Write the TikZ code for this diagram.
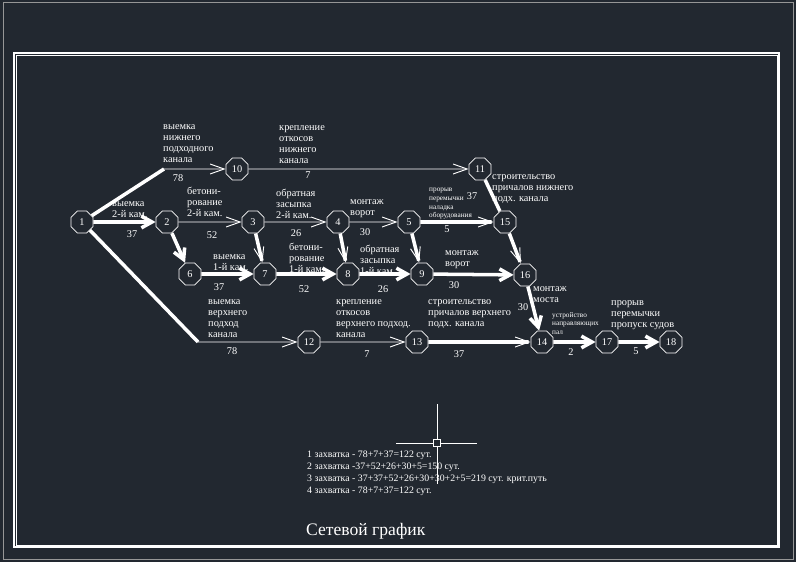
\documentclass[tikz,border=0pt]{standalone}
\usepackage{fontspec}
\setmainfont{Liberation Serif}
\usetikzlibrary{arrows.meta, positioning, shapes.geometric}
\definecolor{bgc}{RGB}{34,40,48}
\definecolor{framec}{RGB}{150,150,150}
\tikzset{
  ev/.style={draw=white, regular polygon, regular polygon sides=8,
             minimum size=0.72cm, inner sep=0pt, line width=0.6pt,
             text=white, font=\fontsize{8.8}{9}\selectfont},
  wk/.style={draw=white, line width=0.8pt,
             -{Straight Barb[length=12pt, width=8.5pt, line width=0.8pt]}},
  crit/.style={draw=white, line width=3pt,
               -{Straight Barb[length=9pt, width=10pt]}},
  critw/.style={draw=white, line width=3pt,
                -{Straight Barb[length=12pt, width=8.5pt, line width=0.8pt]}},
  bar/.style={draw=white, line width=3pt},
  lbl/.style={anchor=west, align=left, inner sep=0pt, text=white,
              font=\fontsize{8.8}{9.4}\selectfont},
  lbls/.style={lbl, font=\fontsize{6.2}{7.4}\selectfont},
  dur/.style={inner sep=0pt, text=white, font=\fontsize{8.8}{9}\selectfont},
}

\begin{document}
\begin{tikzpicture}[x=0.03cm, y=-0.03cm]
  % background and frames
  \fill[bgc] (0,0) rectangle (796,562);
  \useasboundingbox (0,0) rectangle (796,562);
  \draw[framec, line width=0.4pt] (3,2) rectangle (793,559);
  \draw[white, line width=2pt] (14,53) rectangle (779,547);
  \draw[white, line width=0.6pt] (16,55) rectangle (777,545);

  % events
  \node[ev] (n1)  at (82,222)  {1};
  \node[ev] (n2)  at (167,222) {2};
  \node[ev] (n3)  at (253,222) {3};
  \node[ev] (n4)  at (338,222) {4};
  \node[ev] (n5)  at (409,222) {5};
  \node[ev] (n10) at (237,169) {10};
  \node[ev] (n11) at (480,169) {11};
  \node[ev] (n15) at (505,222) {15};
  \node[ev] (n6)  at (190,274) {6};
  \node[ev] (n7)  at (265,274) {7};
  \node[ev] (n8)  at (348,274) {8};
  \node[ev] (n9)  at (422,274) {9};
  \node[ev] (n16) at (525,275) {16};
  \node[ev] (n12) at (309,342) {12};
  \node[ev] (n13) at (417,342) {13};
  \node[ev] (n14) at (542,342) {14};
  \node[ev] (n17) at (607,342) {17};
  \node[ev] (n18) at (671,342) {18};
  \coordinate (k10) at (164,169);
  \coordinate (k12) at (198,342);

  % works
  \draw[bar]   (n1) -- (k10);
  \draw[wk]    (k10) -- (n10);
  \draw[wk]    (n10) -- (n11);
  \draw[crit]  (n1) -- (n2);
  \draw[wk]    (n2) -- (n3);
  \draw[wk]    (n3) -- (n4);
  \draw[wk]    (n4) -- (n5);
  \draw[critw] (n5) -- (n15);
  \draw[bar]   (n11) -- (n15);
  \draw[critw] (n15) -- (n16);
  \draw[crit]  (n2) -- (n6);
  \draw[critw] (n3) -- (n7);
  \draw[critw] (n4) -- (n8);
  \draw[critw] (n5) -- (n9);
  \draw[crit]  (n6) -- (n7);
  \draw[crit]  (n7) -- (n8);
  \draw[crit]  (n8) -- (n9);
  \draw[crit]  (n9) -- (n16);
  \draw[crit]  (n16) -- (n14);
  \draw[bar]   (n1) -- (k12);
  \draw[wk]    (k12) -- (n12);
  \draw[wk]    (n12) -- (n13);
  \draw[critw] (n13) -- (n14);
  \draw[crit]  (n14) -- (n17);
  \draw[crit]  (n17) -- (n18);

  % work names
  \node[lbl] (t1a) at (163,144) {выемка\\нижнего\\подходного\\канала};
  \node[lbl] (t10) at (279,145) {крепление\\откосов\\нижнего\\канала};
  \node[lbl] (t12) at (112,210) {выемка\\2-й кам.};
  \node[lbl] (t23) at (187,201.5) {бетони-\\рование\\2-й кам.};
  \node[lbl] (t34) at (276,203.5) {обратная\\засыпка\\2-й кам.};
  \node[lbl] (t45) at (350,209) {монтаж\\ворот};
  \node[lbls] (t515) at (429,204) {прорыв\\перемычки\\наладка\\оборудования};
  \node[lbl] (t1115) at (492,189) {строительство\\причалов нижнего\\подх. канала};
  \node[lbl] (t67) at (213,263) {выемка\\1-й кам.};
  \node[lbl] (t78) at (289,257.5) {бетони-\\рование\\1-й кам.};
  \node[lbl] (t89) at (360,259.5) {обратная\\засыпка\\1-й кам.};
  \node[lbl] (t916) at (445,259.5) {монтаж\\ворот};
  \node[lbl] (t1614) at (533,294.5) {монтаж\\моста};
  \node[lbl] (t1b) at (208,318.5) {выемка\\верхнего\\подход\\канала};
  \node[lbl] (t1213) at (336,319) {крепление\\откосов\\верхнего подход.\\канала};
  \node[lbl] (t1314) at (428,314) {строительство\\причалов верхнего\\подх. канала};
  \node[lbls] (t1417) at (552,323.5) {устройство\\направляющих\\пал};
  \node[lbl] (t1718) at (611,315) {прорыв\\перемычки\\пропуск судов};

  % durations
  \node[dur] (d1a)   at (178,178) {78};
  \node[dur] (d10)   at (308,175) {7};
  \node[dur] (d12)   at (132,234) {37};
  \node[dur] (d23)   at (212,235) {52};
  \node[dur] (d34)   at (296,233) {26};
  \node[dur] (d45)   at (365,232) {30};
  \node[dur] (d515)  at (447,229) {5};
  \node[dur] (d1115) at (472,196) {37};
  \node[dur] (d67)   at (219,287) {37};
  \node[dur] (d78)   at (304,289) {52};
  \node[dur] (d89)   at (383,289) {26};
  \node[dur] (d916)  at (454,285) {30};
  \node[dur] (d1614) at (523,307) {30};
  \node[dur] (d1b)   at (232,351) {78};
  \node[dur] (d1213) at (367,354) {7};
  \node[dur] (d1314) at (459,354) {37};
  \node[dur] (d1417) at (571,352) {2};
  \node[dur] (d1718) at (636,351) {5};

  % cursor
  \draw[white, line width=0.8pt] (437,404) -- (437,484);
  \draw[white, line width=0.8pt] (396,443) -- (477,443);
  \draw[white, line width=0.8pt, fill=bgc] (433.5,439.5) rectangle (440.5,446.5);

  % totals
  \node[lbl, font=\fontsize{8.4}{10.2}\selectfont] (sum) at (307,473)
    {1 захватка - 78+7+37=122 сут.\\
     2 захватка -37+52+26+30+5=150 сут.\\
     3 захватка - 37+37+52+26+30+30+2+5=219 сут. крит.путь\\
     4 захватка - 78+7+37=122 сут.};
  \node[lbl, font=\fontsize{15}{17}\selectfont] (title) at (306,531) {Сетевой график};
\end{tikzpicture}
\end{document}
